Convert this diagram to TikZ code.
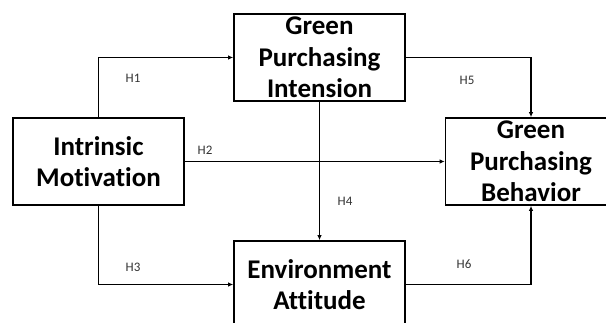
\documentclass[tikz,border=0pt]{standalone}
\usepackage{fontspec}
\setmainfont{Carlito}[Ligatures=NoCommon]
\usetikzlibrary{arrows.meta}
\tikzset{
  costrutto/.style = {rectangle, draw, line width=1.7pt, fill=white, minimum width=171pt, minimum height=87pt, inner sep=0, align=center, font=\fontsize{27}{31.5}\selectfont\bfseries},
  ipotesi/.style   = {-{Latex[length=5pt,width=4.5pt]}, line width=1.6pt},
  et/.style        = {font=\fontsize{13}{15}\selectfont, text=black!80}
}
\begin{document}
\begin{tikzpicture}[x=1pt,y=-1pt]
  \useasboundingbox (0,0) rectangle (606,323);
  \clip (0,0) rectangle (606,323);
  \node[costrutto] (IM)  at ( 98.5,161.5) {Intrinsic\\Motivation};
  \node[costrutto] (GPI) at (319.5, 57.5) {Green\\Purchasing\\Intension};
  \node[costrutto] (GPB) at (531.0,161.5) {Green\\Purchasing\\Behavior};
  \node[costrutto] (EA)  at (319.5,284.5) {Environment\\Attitude};
  \draw[ipotesi] (IM.north) |- (GPI.west);  \node[et] (h1) at (133, 78) {H1};
  \draw[ipotesi] (IM.east)  -- (GPB.west);  \node[et] (h2) at (205,150) {H2};
  \draw[ipotesi] (IM.south) |- (EA.west);   \node[et] (h3) at (133,267) {H3};
  \draw[ipotesi] (GPI.south)-- (EA.north);  \node[et] (h4) at (345,201) {H4};
  \draw[ipotesi] (GPI.east) -| (GPB.north); \node[et] (h5) at (467, 80) {H5};
  \draw[ipotesi] (EA.east)  -| (GPB.south); \node[et] (h6) at (464,264) {H6};
\end{tikzpicture}
\end{document}
